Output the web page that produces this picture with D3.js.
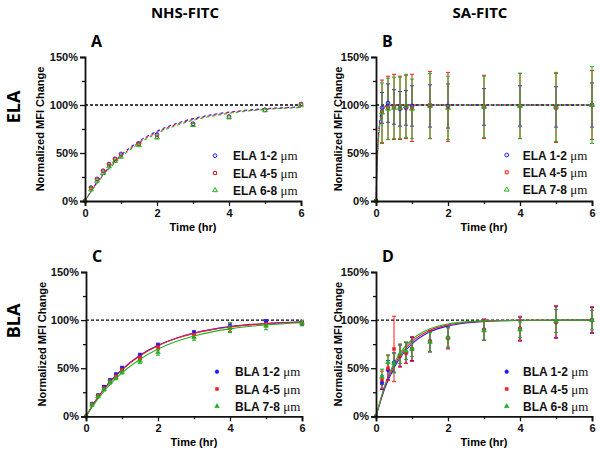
<!DOCTYPE html>
<html><head><meta charset="utf-8">
<script src="https://cdn.jsdelivr.net/npm/d3@7"></script>
<style>body{margin:0;background:#fff}svg{display:block}</style>
</head><body>
<svg id="c" width="600" height="456"></svg>
<script>
// ---------- data ----------
const times = [0, 0.167, 0.333, 0.5, 0.667, 0.833, 1, 1.5, 2, 3, 4, 5, 6];
const xTicks = [0, 2, 4, 6];
const xMinor = [1, 3, 5];
const yTicks = [0, 50, 100, 150];
const yMinor = [25, 75, 125];
const yTickLabels = ["0%", "50%", "100%", "150%"];
const colTitles = ["NHS-FITC", "SA-FITC"];
const rowTitles = ["ELA", "BLA"];
const panelLetters = ["A", "B", "C", "D"];
const seriesColors = ["#1a1aff", "#ff1a1a", "#22b022"];

const legendA = ["ELA 1-2 ", "ELA 4-5 ", "ELA 6-8 "];
const legendB = ["ELA 1-2 ", "ELA 4-5 ", "ELA 7-8 "];
const legendC = ["BLA 1-2 ", "BLA 4-5 ", "BLA 7-8 "];
const legendD = ["BLA 1-2 ", "BLA 4-5 ", "BLA 6-8 "];

// Panel A (means, %)
const aBlue  = [0, 14, 23, 31.5, 38.5, 44, 49, 60, 69, 80.5, 88, 95, 101];
const aRed   = [0, 13.5, 22.5, 31, 38, 43.5, 47.5, 59.5, 67, 79.5, 87.5, 94.5, 101];
const aGreen = [0, 12, 21, 29, 36, 41.5, 46, 58, 66, 79, 87, 94.5, 100];

// Panel B (means, SD)
const bBlue  = [0, 97, 102, 98, 96, 97, 99, 99, 99, 98, 99, 98, 100];
const bBlueErr  = [0, 16, 20, 18, 18, 18, 21, 22, 23, 19, 21, 21, 23];
const bRed   = [0, 93, 97, 98, 97, 98, 97, 100, 98, 98, 99, 97, 100];
const bRedErr   = [0, 33, 33, 34, 33, 33, 35, 35, 36, 33, 34, 36, 36];
const bGreen = [0, 92, 96, 97, 97, 99, 96, 99, 97, 98, 99, 98, 100];
const bGreenErr = [0, 31, 32, 32, 32, 33, 31, 34, 33, 32, 34, 36, 40];

// Panel C
const cBlue  = [0, 13, 22, 30.5, 37.5, 43.5, 50, 63.5, 74, 87, 94, 98.5, 97];
const cBlueErr  = [0, 1, 1, 1.5, 1.5, 1.5, 2, 2, 2, 2, 3, 2, 2];
const cRed   = [0, 12.5, 21.5, 29, 36.5, 42, 48.5, 61.5, 72, 85, 92, 96, 97];
const cRedErr   = [0, 1, 1, 1.5, 2, 2, 2, 2.5, 3, 3, 4, 3, 2];
const cGreen = [0, 12, 20.5, 28, 35.5, 40, 46, 57.5, 66.5, 82, 92, 94, 97];
const cGreenErr = [0, 1, 1, 1.5, 2, 2, 2, 2.5, 3, 3, 5, 4, 3];

// Panel D
const dBlue  = [0, 35, 48, 56, 63, 66, 70, 78, 82, 90, 91, 98, 100];
const dBlueErr  = [0, 7, 10, 10, 11, 11, 12, 11, 11, 11, 12, 16, 13];
const dRed   = [0, 38, 50, 70, 63, 66, 70, 78, 81, 90, 91, 98, 100];
const dRedErr   = [0, 9, 13, 34, 12, 11, 13, 11, 11, 11, 13, 17, 14];
const dGreen = [0, 41, 56, 55, 65, 68, 70, 77, 82, 89, 90, 99, 100];
const dGreenErr = [0, 8, 8, 10, 10, 9, 8, 10, 10, 10, 8, 12, 10];

// Fitted curves
const fitT = [0, 0.25, 0.5, 0.75, 1, 1.5, 2, 2.5, 3, 3.5, 4, 5, 6];
const aFitBlue  = [0, 15.0, 27.7, 38.5, 47.8, 62.3, 72.7, 80.3, 85.8, 89.7, 92.6, 96.1, 98.0];
const aFitRed   = [0, 14.6, 27.0, 37.7, 46.7, 61.1, 71.6, 79.3, 84.9, 89.0, 92.0, 95.7, 97.7];
const aFitGreen = [0, 14.1, 26.3, 36.7, 45.7, 59.9, 70.5, 78.2, 84.0, 88.2, 91.3, 95.3, 97.4];
const bFitT = [0, 0.02, 0.05, 0.1, 0.15, 0.2, 0.3, 0.5, 1, 2, 4, 6];
const bFitBlue  = [0, 28, 57, 82, 93, 97, 99.5, 100, 100, 100, 100, 100];
const bFitRed   = [0, 26, 54, 79, 91, 96, 99, 100, 100, 100, 100, 100];
const bFitGreen = [0, 25, 52, 77, 90, 95, 98.8, 100, 100, 100, 100, 100];
const cFitBlue  = [0, 15.4, 28.4, 39.4, 48.7, 63.4, 73.8, 81.2, 86.5, 90.4, 93.2, 96.5, 98.2];
const cFitRed   = [0, 15.2, 28.1, 39.0, 48.3, 62.9, 73.3, 80.8, 86.2, 90.1, 92.9, 96.3, 98.1];
const cFitGreen = [0, 13.9, 25.9, 36.2, 45.1, 59.3, 69.9, 77.7, 83.5, 87.8, 90.9, 95.0, 97.3];
const dFitBlue  = [0, 29.5, 50.3, 65.0, 75.3, 87.8, 93.9, 97.0, 98.5, 99.3, 99.6, 99.9, 100];
const dFitRed   = [0, 31.3, 52.8, 67.5, 77.7, 89.5, 95.0, 97.6, 98.9, 99.5, 99.8, 99.9, 100];
const dFitGreen = [0, 33.0, 55.1, 69.9, 79.8, 90.9, 95.9, 98.2, 99.2, 99.6, 99.8, 100, 100];

// ---------- layout ----------
const panels = [
  {letter: panelLetters[0], x0: 85, x1: 301, yTop: 57, yBot: 201, filled: false, legend: legendA,
   lx: 215, tx: 233, ly: [155.7, 173, 190.3], ylabX: 44, dashed: true,
   means: [aBlue, aRed, aGreen], errs: null, fitT: fitT, fits: [aFitBlue, aFitRed, aFitGreen]},
  {letter: panelLetters[1], x0: 376, x1: 592, yTop: 57, yBot: 201, filled: false, legend: legendB,
   lx: 506.7, tx: 522.7, ly: [155, 172.3, 189.7], ylabX: 342, dashed: true,
   means: [bBlue, bRed, bGreen], errs: [bBlueErr, bRedErr, bGreenErr], fitT: bFitT, fits: [bFitBlue, bFitRed, bFitGreen]},
  {letter: panelLetters[2], x0: 86, x1: 302, yTop: 272, yBot: 416.3, filled: true, legend: legendC,
   lx: 217, tx: 235, ly: [371.7, 389, 406.3], ylabX: 46, dashed: false,
   means: [cBlue, cRed, cGreen], errs: [cBlueErr, cRedErr, cGreenErr], fitT: fitT, fits: [cFitBlue, cFitRed, cFitGreen]},
  {letter: panelLetters[3], x0: 376, x1: 592, yTop: 272, yBot: 416.3, filled: true, legend: legendD,
   lx: 506.7, tx: 523, ly: [371.7, 389, 406.3], ylabX: 342, dashed: false,
   means: [dBlue, dRed, dGreen], errs: [dBlueErr, dRedErr, dGreenErr], fitT: fitT, fits: [dFitBlue, dFitRed, dFitGreen]}
];

const svg = d3.select("#c");
const sans = "'Liberation Sans', Arial, sans-serif";
const title = "'Open Sans', sans-serif";
const symbols = [d3.symbolCircle, d3.symbolSquare, d3.symbolTriangle];
const symSize = [11, 9, 10];

// column titles
svg.append("text").attr("x", 185).attr("y", 18).attr("text-anchor", "middle")
  .attr("font-family", title).attr("font-weight", "bold").attr("font-size", 15).text(colTitles[0]);
svg.append("text").attr("x", 480).attr("y", 18).attr("text-anchor", "middle")
  .attr("font-family", title).attr("font-weight", "bold").attr("font-size", 15).text(colTitles[1]);
// row titles
[[107, rowTitles[0]], [321, rowTitles[1]]].forEach(([cy, t]) => {
  svg.append("text").attr("transform", `translate(20,${cy}) rotate(-90)`).attr("text-anchor", "middle")
    .attr("font-family", title).attr("font-weight", "bold").attr("font-size", 18).text(t);
});

panels.forEach(p => {
  const x = d3.scaleLinear().domain([0, 6]).range([p.x0, p.x1]);
  const y = d3.scaleLinear().domain([0, 150]).range([p.yBot, p.yTop]);
  const g = svg.append("g");

  // letter
  g.append("text").attr("x", p.x0 + 6).attr("y", p.yTop - 10)
    .attr("font-family", title).attr("font-weight", "bold").attr("font-size", 16).text(p.letter);

  // dashed 100% line
  g.append("line").attr("x1", x(0)).attr("x2", x(6)).attr("y1", y(100)).attr("y2", y(100))
    .attr("stroke", "#000").attr("stroke-width", 1.4).attr("stroke-dasharray", "3,2");

  // fitted curves
  const line = d3.line().x(d => x(d[0])).y(d => y(d[1])).curve(d3.curveMonotoneX);
  p.fits.forEach((f, i) => {
    const path = g.append("path").datum(p.fitT.map((t, j) => [t, f[j]]))
      .attr("d", line).attr("fill", "none").attr("stroke", seriesColors[i]).attr("stroke-width", 1.1);
    if (p.dashed) path.attr("stroke-dasharray", "3,3").attr("stroke-dashoffset", i * 2);
  });

  // error bars
  if (p.errs) {
    p.means.forEach((m, i) => {
      const e = p.errs[i];
      const eg = g.append("g").attr("stroke", seriesColors[i]).attr("stroke-width", 1);
      times.forEach((t, j) => {
        if (e[j] <= 0) return;
        const xx = x(t), yt = y(m[j] + e[j]), yb = y(m[j] - e[j]);
        eg.append("line").attr("x1", xx).attr("x2", xx).attr("y1", yt).attr("y2", yb);
        eg.append("line").attr("x1", xx - 2).attr("x2", xx + 2).attr("y1", yt).attr("y2", yt);
        eg.append("line").attr("x1", xx - 2).attr("x2", xx + 2).attr("y1", yb).attr("y2", yb);
      });
    });
  }

  // points
  p.means.forEach((m, i) => {
    const sym = d3.symbol().type(symbols[i]).size(symSize[i]);
    g.append("g").selectAll("path").data(times.map((t, j) => [t, m[j]])).join("path")
      .attr("transform", d => `translate(${x(d[0])},${y(d[1])})`)
      .attr("d", sym)
      .attr("fill", p.filled ? seriesColors[i] : "none")
      .attr("stroke", seriesColors[i]).attr("stroke-width", p.filled ? 0.5 : 1);
  });

  // axes
  const yAxis = d3.axisLeft(y).tickValues(yTicks).tickFormat((d, i) => yTickLabels[i]).tickSize(5).tickPadding(2);
  const ya = g.append("g").attr("transform", `translate(${p.x0},0)`).call(yAxis);
  const yAxisMinor = d3.axisLeft(y).tickValues(yMinor).tickFormat("").tickSize(3);
  const ym = g.append("g").attr("transform", `translate(${p.x0},0)`).call(yAxisMinor);
  const xAxis = d3.axisBottom(x).tickValues(xTicks).tickFormat(d3.format("d")).tickSize(5).tickPadding(3);
  const xa = g.append("g").attr("transform", `translate(0,${p.yBot})`).call(xAxis);
  const xAxisMinor = d3.axisBottom(x).tickValues(xMinor).tickFormat("").tickSize(3);
  const xm = g.append("g").attr("transform", `translate(0,${p.yBot})`).call(xAxisMinor);
  [ya, ym, xa, xm].forEach(a => {
    a.select(".domain").attr("stroke", "#111").attr("stroke-width", 1.8);
    a.selectAll(".tick line").attr("stroke", "#111").attr("stroke-width", 1.3);
    a.selectAll("text").attr("font-family", sans).attr("font-weight", "bold").attr("font-size", 11).attr("fill", "#111");
  });
  ym.select(".domain").remove();
  xm.select(".domain").remove();

  // axis titles
  g.append("text").attr("x", (p.x0 + p.x1) / 2).attr("y", p.yBot + 30).attr("text-anchor", "middle")
    .attr("font-family", sans).attr("font-weight", "bold").attr("font-size", 11).text("Time (hr)");
  g.append("text").attr("transform", `translate(${p.ylabX},${(p.yTop + p.yBot) / 2}) rotate(-90)`)
    .attr("text-anchor", "middle").attr("font-family", sans).attr("font-weight", "bold").attr("font-size", 11)
    .text("Normalized MFI Change");

  // legend
  p.legend.forEach((lab, i) => {
    const sym = d3.symbol().type(symbols[i]).size(symSize[i]);
    g.append("path").attr("transform", `translate(${p.lx},${p.ly[i]})`).attr("d", sym)
      .attr("fill", p.filled ? seriesColors[i] : "none").attr("stroke", seriesColors[i])
      .attr("stroke-width", p.filled ? 0.5 : 1);
    const t = g.append("text").attr("x", p.tx).attr("y", p.ly[i] + 4.5)
      .attr("font-family", sans).attr("font-weight", "bold").attr("font-size", 12).attr("fill", "#111");
    t.append("tspan").text(lab);
    t.append("tspan").attr("font-family", "'Liberation Serif', serif").attr("font-weight", "normal")
      .attr("font-size", 13).text("μm");
  });
});
</script>
</body></html>
